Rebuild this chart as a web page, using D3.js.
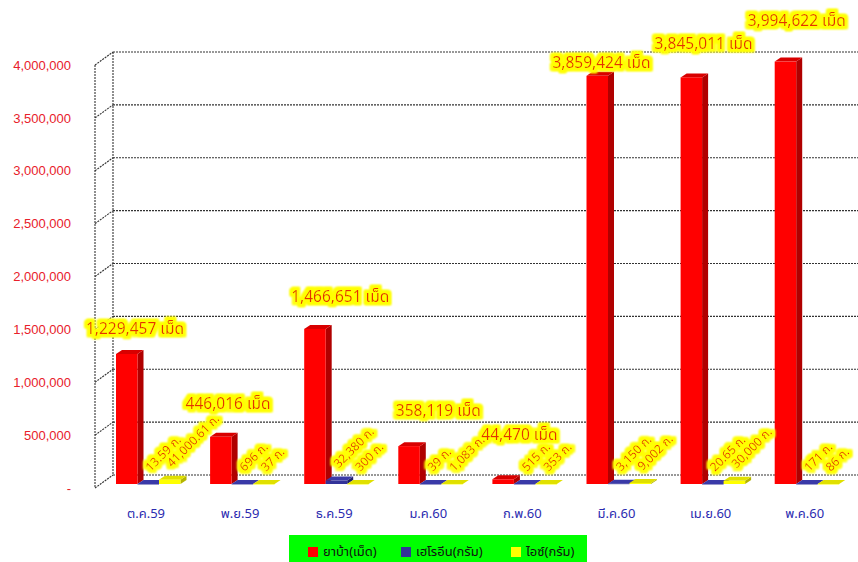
<!DOCTYPE html>
<html>
<head>
<meta charset="utf-8">
<script src="https://cdn.jsdelivr.net/npm/d3@7"></script>
<style>
  html, body { margin: 0; padding: 0; background: #fff; }
  svg { display: block; font-family: Tahoma, 'Noto Sans Thai', 'Noto Sans', 'DejaVu Sans', sans-serif; }
</style>
</head>
<body>
<svg id="chart"></svg>
<script>
// Monthly seizures: ยาบ้า (tablets), เฮโรอีน (grams), ไอซ์ (grams)
const categories = ['ต.ค.59', 'พ.ย.59', 'ธ.ค.59', 'ม.ค.60', 'ก.พ.60', 'มี.ค.60', 'เม.ย.60', 'พ.ค.60'];
const methValues = [1229457, 446016, 1466651, 358119, 44470, 3859424, 3845011, 3994622];
const heroinValues = [13.59, 696, 32380, 39, 515, 3150, 20.65, 171];
const iceValues = [41000.61, 37, 300, 1083, 353, 9002, 30000, 86];
const yTicks = [0, 500000, 1000000, 1500000, 2000000, 2500000, 3000000, 3500000, 4000000];
const seriesNames = ['ยาบ้า(เม็ด)', 'เฮโรอีน(กรัม)', 'ไอซ์(กรัม)'];

// hand-placed nudges for the big value labels (Excel-style manual placement)
const LABEL_NUDGE = [[-6, 6], [-7, -2], [11, -1], [15, -4], [2, -13], [-10, 18], [-2, -2], [-3, -10]];

const SERIES = [
  { values: methValues, front: '#ff0000', side: '#b00000', top: '#d80000' },
  { values: heroinValues, front: '#333399', side: '#1f1f6a', top: '#3a3aa8' },
  { values: iceValues, front: '#ffff00', side: '#b4b400', top: '#e0e000' },
];

const width = 858, height = 562;
const svg = d3.select('#chart').attr('width', width).attr('height', height);

const defs = svg.append('defs');
const glow = defs.append('filter').attr('id', 'glow').attr('x', '-20%').attr('y', '-40%').attr('width', '140%').attr('height', '180%');
glow.append('feMorphology').attr('in', 'SourceAlpha').attr('operator', 'dilate').attr('radius', 2.5).attr('result', 'thick');
glow.append('feGaussianBlur').attr('in', 'thick').attr('stdDeviation', 1).attr('result', 'blur');
glow.append('feFlood').attr('flood-color', '#ffff00');
glow.append('feComposite').attr('in2', 'blur').attr('operator', 'in').attr('result', 'halo');
const merge = glow.append('feMerge');
merge.append('feMergeNode').attr('in', 'halo');
merge.append('feMergeNode').attr('in', 'halo');
merge.append('feMergeNode').attr('in', 'SourceGraphic');

// Layout: back wall plane + depth offset toward the viewer
const wall = { left: 113, right: 858, bottom: 475, top: 52 };
const depth = { dx: -18, dy: 13 };
const barDepth = { dx: 6, dy: -4 };
const barBase = 484;
const barW = 21.5;

const yBack = d3.scaleLinear().domain([0, 4000000]).range([wall.bottom, wall.top]);
const yFront = d3.scaleLinear().domain([0, 4000000]).range([wall.bottom + depth.dy, wall.top + depth.dy]);
const yBar = d3.scaleLinear().domain([0, 4000000]).range([barBase, barBase - (wall.bottom - wall.top)]);
const x = d3.scaleBand().domain(categories).range([100, 100 + 94.1 * categories.length]);

const gridStyle = sel => sel.attr('stroke', '#333').attr('stroke-width', 1.1).attr('stroke-dasharray', '2,1').attr('fill', 'none');

// Back wall gridlines
svg.append('g').selectAll('line').data(yTicks).join('line')
  .attr('x1', wall.left).attr('x2', wall.right)
  .attr('y1', d => yBack(d)).attr('y2', d => yBack(d))
  .call(gridStyle);

// Side wall
const side = svg.append('g');
side.selectAll('line.diag').data(yTicks).join('line').attr('class', 'diag')
  .attr('x1', wall.left + depth.dx).attr('y1', d => yFront(d))
  .attr('x2', wall.left).attr('y2', d => yBack(d))
  .call(gridStyle);
side.append('line')
  .attr('x1', wall.left).attr('x2', wall.left)
  .attr('y1', yBack(4000000)).attr('y2', yBack(0)).call(gridStyle);
side.append('line')
  .attr('x1', wall.left + depth.dx).attr('x2', wall.left + depth.dx)
  .attr('y1', yFront(4000000)).attr('y2', yFront(0)).call(gridStyle);

// Y axis labels
const yAxis = d3.axisLeft(yFront).tickValues(yTicks).tickSize(0).tickPadding(24)
  .tickFormat(d => d === 0 ? '-' : d3.format(',')(d));
const yg = svg.append('g').attr('transform', `translate(${wall.left + depth.dx},0)`).call(yAxis);
yg.select('.domain').remove();
yg.selectAll('text').attr('fill', '#e8202a').attr('font-size', '13px').attr('font-family', null);

// 3D bars
const bars = svg.append('g');
categories.forEach((cat, i) => {
  SERIES.forEach((s, si) => {
    const v = s.values[i];
    const bx = x(cat) + 16 + si * barW;
    const top = yBar(v);
    const w = barW;
    const g = bars.append('g');
    g.append('polygon')
      .attr('points', [[bx + w, top], [bx + w + barDepth.dx, top + barDepth.dy], [bx + w + barDepth.dx, barBase + barDepth.dy], [bx + w, barBase]].join(' '))
      .attr('fill', s.side);
    g.append('polygon')
      .attr('points', [[bx, top], [bx + barDepth.dx, top + barDepth.dy], [bx + w + barDepth.dx, top + barDepth.dy], [bx + w, top]].join(' '))
      .attr('fill', s.top);
    g.append('rect')
      .attr('x', bx).attr('y', top).attr('width', w).attr('height', Math.max(0.5, barBase - top))
      .attr('fill', s.front);
  });
});

// Value labels
const labels = svg.append('g').attr('filter', 'url(#glow)').attr('fill', '#e63200');
categories.forEach((cat, i) => {
  const v = methValues[i];
  const bx = x(cat) + 16;
  labels.append('text')
    .attr('x', bx + 25 + LABEL_NUDGE[i][0]).attr('y', yBar(v) - 26 + LABEL_NUDGE[i][1])
    .attr('text-anchor', 'middle').attr('font-size', '15.5px')
    .text(`${d3.format(',')(v)} เม็ด`);
  [heroinValues, iceValues].forEach((vals, k) => {
    const sv = vals[i];
    const sx = x(cat) + 16 + (k + 1) * barW + 13;
    const sy = yBar(sv) - 12;
    const txt = Number.isInteger(sv) ? d3.format(',')(sv) : d3.format(',.2f')(sv);
    labels.append('text')
      .attr('transform', `translate(${sx},${sy}) rotate(-45)`)
      .attr('font-size', '12px')
      .text(`${txt} ก.`);
  });
});

// Category labels
svg.append('g').selectAll('text').data(categories).join('text')
  .attr('x', d => x(d) + 46).attr('y', 518)
  .attr('text-anchor', 'middle').attr('fill', '#2b2bb0').attr('font-size', '13px')
  .text(d => d);

// Legend
const legend = svg.append('g').attr('transform', 'translate(289,535)');
legend.append('rect').attr('width', 298).attr('height', 27).attr('fill', '#00ff00');
const legendX = [19, 112, 222];
seriesNames.forEach((name, i) => {
  const item = legend.append('g').attr('transform', `translate(${legendX[i]},12)`);
  item.append('rect').attr('width', 10).attr('height', 10).attr('fill', SERIES[i].front);
  item.append('text').attr('x', 15).attr('y', 9).attr('font-size', '13px').attr('fill', '#111').text(name);
});
</script>
</body>
</html>
